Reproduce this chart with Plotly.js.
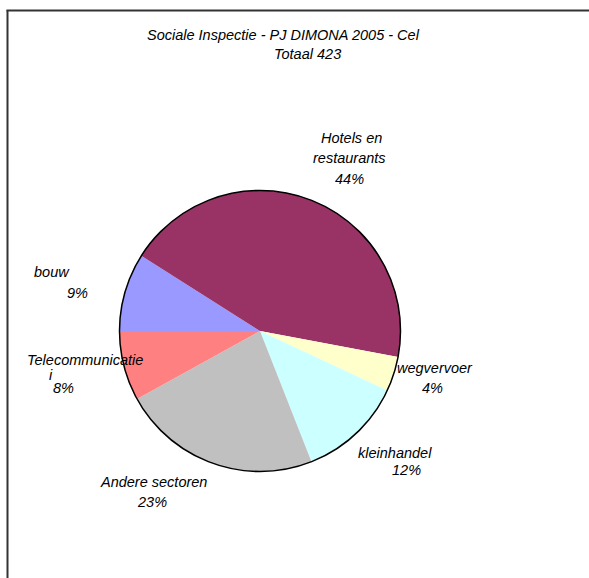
<!DOCTYPE html>
<html>
<head>
<meta charset="utf-8">
<script src="https://cdn.plot.ly/plotly-3.0.1.min.js"></script>
<style>
  html, body { margin: 0; padding: 0; background: #ffffff; }
  #chart { width: 589px; height: 578px; }
</style>
</head>
<body>
<div id="chart"></div>
<script>
// ---- data ----
const titleLine1 = 'Sociale Inspectie - PJ DIMONA 2005 - Cel';
const titleLine2Prefix = 'Totaal';
const sectors = ['bouw', 'Hotels en restaurants', 'wegvervoer', 'kleinhandel', 'Andere sectoren', 'Telecommunicatie'];
const counts = [38, 186, 17, 51, 97, 34];
const sectorColors = ['#9999FF', '#993366', '#FFFFCC', '#CCFFFF', '#C0C0C0', '#FF8080'];
// label text as wrapped in the picture
const labelLines = [['bouw'], ['Hotels en', 'restaurants'], ['wegvervoer'], ['kleinhandel'], ['Andere sectoren'], ['Telecommunicatie', 'i']];

// ---- layout helpers (positions in pixels of the 589x578 page) ----
const W = 589, H = 578;
const px = x => x / W;
const py = y => 1 - y / H;
const labelPos = [
  { lines: [[52, 272]], pct: [77, 293] },
  { lines: [[351, 138], [349, 158]], pct: [349, 179] },
  { lines: [[435, 368]], pct: [432, 388] },
  { lines: [[395, 453]], pct: [406, 470] },
  { lines: [[153, 482]], pct: [152, 502] },
  { lines: [[85, 360], [51, 375]], pct: [63, 388] }
];

const total = counts.reduce((a, b) => a + b, 0);
const fontFam = '"Liberation Sans", Arial, sans-serif';
const txtFont = { family: fontFam, size: 14.5, color: '#000000', style: 'italic' };

const annotations = [];
function addText(text, x, y) {
  annotations.push({
    text: text, x: px(x), y: py(y), xref: 'paper', yref: 'paper',
    xanchor: 'center', yanchor: 'middle', showarrow: false, font: txtFont
  });
}
addText(titleLine1, 283.5, 35);
addText(titleLine2Prefix + ' ' + total, 307, 54);
sectors.forEach((s, i) => {
  labelLines[i].forEach((line, j) => addText(line, labelPos[i].lines[j][0], labelPos[i].lines[j][1]));
  addText(Math.round(counts[i] / total * 100) + '%', labelPos[i].pct[0], labelPos[i].pct[1]);
});

const cx = 260, cy = 331, r = 140.5;
const domain = { x: [px(cx - r), px(cx + r)], y: [py(cy + r), py(cy - r)] };

const traces = [
  {
    type: 'pie', values: counts, labels: sectors, sort: false,
    direction: 'clockwise', rotation: 270,
    marker: { colors: sectorColors, line: { width: 0 } },
    textinfo: 'none', hoverinfo: 'none', showlegend: false, domain: domain
  },
  {
    type: 'pie', values: [total], labels: ['Totaal'], sort: false,
    marker: { colors: ['rgba(0,0,0,0)'], line: { color: '#000000', width: 1.5 } },
    textinfo: 'none', hoverinfo: 'none', showlegend: false, domain: domain
  }
];

const layout = {
  width: W, height: H,
  margin: { l: 0, r: 0, t: 0, b: 0 },
  paper_bgcolor: '#ffffff',
  showlegend: false,
  font: { family: fontFam },
  annotations: annotations,
  shapes: [
    { type: 'line', xref: 'paper', yref: 'paper', x0: px(7.5), x1: px(7.5), y0: py(10), y1: 0, line: { color: '#333333', width: 2 } },
    { type: 'line', xref: 'paper', yref: 'paper', x0: px(6.5), x1: 1, y0: py(10.5), y1: py(10.5), line: { color: '#333333', width: 2 } }
  ]
};

Plotly.newPlot('chart', traces, layout, { displayModeBar: false, staticPlot: true });
</script>
</body>
</html>
